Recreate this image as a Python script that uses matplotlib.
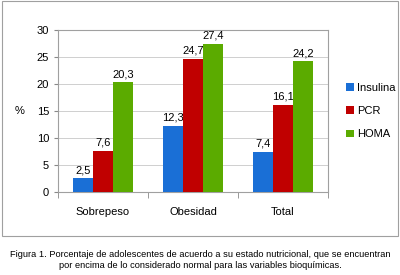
import matplotlib
matplotlib.use('Agg')
import matplotlib.pyplot as plt
from matplotlib.patches import Rectangle
import numpy as np

categorias = ['Sobrepeso', 'Obesidad', 'Total']
insulina = [2.5, 12.3, 7.4]
pcr = [7.6, 24.7, 16.1]
homa = [20.3, 27.4, 24.2]
series = ['Insulina', 'PCR', 'HOMA']
colores = ['#1a6fd6', '#c00000', '#5bab00']

plt.rcParams['font.family'] = ['Liberation Sans', 'DejaVu Sans']

fig = plt.figure(figsize=(4, 2.75), dpi=100)
fig.patch.set_facecolor('white')

# marco exterior del gráfico
fig.patches.append(Rectangle((0.005, 0.142), 0.99, 0.853, transform=fig.transFigure,
                             fill=False, edgecolor='#a0a0a0', linewidth=0.8))

ax = fig.add_axes([0.145, 0.302, 0.675, 0.589])
x = np.arange(len(categorias))
w = 0.22
for i, (vals, nombre, c) in enumerate(zip([insulina, pcr, homa], series, colores)):
    bars = ax.bar(x + (i - 1) * w, vals, w, color=c, label=nombre, zorder=3)
    for b, v in zip(bars, vals):
        ax.text(b.get_x() + b.get_width() / 2, v + 0.6, f'{v:.1f}'.replace('.', ','),
                ha='center', va='bottom', fontsize=8)

ax.set_xlim(-0.5, 2.5)
ax.set_ylim(0, 30)
ax.set_yticks(range(0, 31, 5))
ax.yaxis.grid(True, color='#c8c8c8', linewidth=0.6, zorder=0)
ax.set_xticks([-0.5, 0.5, 1.5, 2.5], minor=True)
ax.set_xticks(x)
ax.set_xticklabels(categorias)
ax.tick_params(axis='x', which='major', length=0, pad=11, labelsize=8)
ax.tick_params(axis='x', which='minor', length=4, color='#888888')
ax.tick_params(axis='y', length=3, color='#888888', labelsize=8)
for s in ax.spines.values():
    s.set_color('#a0a0a0')
    s.set_linewidth(0.8)
ax.set_ylabel('%', rotation=0, fontsize=8, labelpad=12, va='center')

ax.legend(loc='center left', bbox_to_anchor=(1.03, 0.5), frameon=False,
          fontsize=8, handlelength=0.7, handleheight=0.7, handletextpad=0.3,
          labelspacing=1.2)

fig.text(0.5, 0.056, 'Figura 1. Porcentaje de adolescentes de acuerdo a su estado nutricional, que se encuentran\n'
         'por encima de lo considerado normal para las variables bioquímicas.',
         ha='center', va='center', fontsize=6.7, linespacing=1.3)

fig.savefig('out.png', dpi=100)
